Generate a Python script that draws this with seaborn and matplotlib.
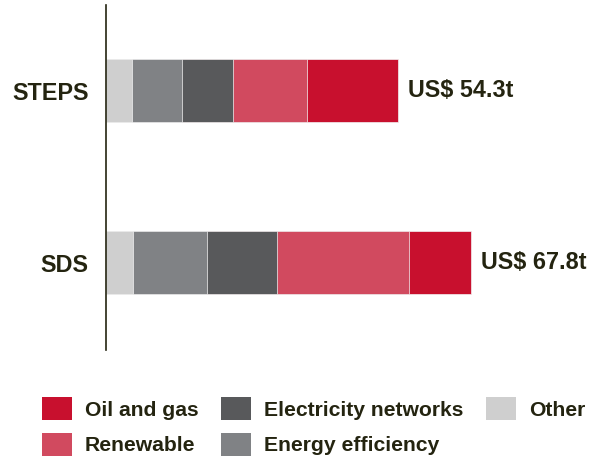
import matplotlib
matplotlib.use("Agg")
import matplotlib.pyplot as plt
import seaborn as sns
import pandas as pd
import numpy as np
from matplotlib.patches import Patch

scenarios = ["STEPS", "SDS"]
categories = ["Other", "Energy efficiency", "Electricity networks", "Renewable", "Oil and gas"]
other = [4.8, 5.0]
energy_eff = [9.3, 13.7]
elec_net = [9.5, 13.1]
renewable = [13.8, 24.5]
oil_gas = [16.9, 11.5]
total_labels = ["US$ 54.3t", "US$ 67.8t"]

colors = {"Other": "#CFCFCF", "Energy efficiency": "#808285", "Electricity networks": "#58595B",
          "Renewable": "#D14A5F", "Oil and gas": "#C8102E"}
text_color = "#242410"

sns.set_theme(style="white")
plt.rcParams['font.family'] = ['Liberation Sans', 'DejaVu Sans']

series = [other, energy_eff, elec_net, renewable, oil_gas]
cum = np.cumsum(np.array(series), axis=0)

fig = plt.figure(figsize=(5.92, 4.58), dpi=100)
ax = fig.add_axes([106/592, 1-350/458, 484/592, 345/458])

# draw cumulative bars from the outermost inward
for i in range(len(categories) - 1, -1, -1):
    df = pd.DataFrame({"scenario": scenarios, "value": cum[i]})
    sns.barplot(data=df, x="value", y="scenario", orient="h", color=colors[categories[i]],
                saturation=1, width=0.366, ax=ax, edgecolor="#f2f2f2", linewidth=0.5)

for j, lab in enumerate(total_labels):
    ax.text(cum[-1][j] + 1.85, j, lab, va="center", ha="left", fontsize=16.8,
            fontweight="bold", color=text_color)

ax.set_xlim(0, 90)
ax.set_ylim(1.506, -0.498)
ax.set_xlabel("")
ax.set_ylabel("")
ax.set_xticks([])
ax.tick_params(axis="y", length=0, pad=12.5, labelsize=16.8, labelcolor=text_color)
for lbl in ax.get_yticklabels():
    lbl.set_fontweight("bold")
for s in ["top", "right", "bottom"]:
    ax.spines[s].set_visible(False)
ax.spines["left"].set_color(text_color)
ax.spines["left"].set_linewidth(1.2)

order = ["Oil and gas", "Renewable", "Electricity networks", "Energy efficiency", "Other"]
handles = [Patch(facecolor=colors[c], edgecolor="none", label=c) for c in order]
leg = fig.legend(handles=handles, ncol=3, loc="upper left", bbox_to_anchor=(38/592, 1-393/458),
                 frameon=False, fontsize=15.2, handlelength=1.42, handleheight=1.3,
                 handletextpad=0.6, columnspacing=1.08, labelspacing=0.6, borderaxespad=0,
                 borderpad=0.2)
for t in leg.get_texts():
    t.set_fontweight("bold")
    t.set_color(text_color)

fig.savefig("out.png", dpi=100)
